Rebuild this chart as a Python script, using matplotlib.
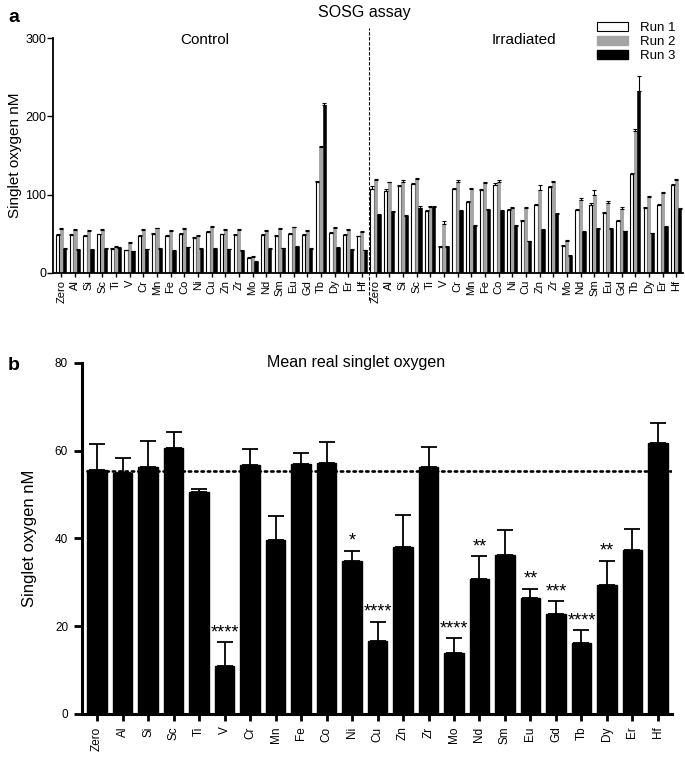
import matplotlib
matplotlib.use("Agg")
import matplotlib.pyplot as plt
import numpy as np
from matplotlib.patches import Patch

plt.rcParams['font.family'] = ['Liberation Sans', 'DejaVu Sans']

elements = ["Zero", "Al", "Si", "Sc", "Ti", "V", "Cr", "Mn", "Fe", "Co", "Ni", "Cu",
            "Zn", "Zr", "Mo", "Nd", "Sm", "Eu", "Gd", "Tb", "Dy", "Er", "Hf"]

# Panel a: SOSG assay (three runs), control and irradiated
ctrl_run1 = [48.1, 48.5, 47.2, 48.9, 30.6, 28.5, 47.2, 49.8, 46.8, 49.4, 43.8, 51.5,
             48.9, 48.1, 18.7, 48.1, 47.2, 49.8, 48.5, 116.2, 51.1, 48.5, 46.4]
ctrl_run2 = [55.7, 54.5, 54.0, 54.9, 33.2, 37.9, 54.5, 56.6, 53.6, 55.7, 46.8, 57.9,
             54.9, 54.9, 20.0, 53.2, 55.7, 57.9, 53.2, 160.9, 57.4, 54.9, 52.3]
ctrl_run3 = [30.6, 28.9, 28.9, 30.2, 31.9, 27.2, 29.8, 30.2, 28.1, 32.3, 30.6, 30.2,
             29.8, 28.1, 14.0, 30.6, 31.1, 32.8, 30.6, 214.0, 31.5, 29.4, 28.5]
ctrl_err1 = [2.0, 1.5, 1.0, 1.0, 1.0, 1.0, 1.0, 1.5, 1.0, 1.5, 2.0, 1.5,
             1.0, 1.0, 1.0, 1.0, 1.0, 1.0, 1.0, 1.5, 1.5, 1.0, 1.0]
ctrl_err2 = [1.5, 1.0, 1.0, 1.0, 1.0, 1.0, 1.0, 1.0, 1.0, 1.0, 1.0, 1.5,
             1.0, 1.0, 1.0, 1.0, 1.5, 1.0, 1.0, 1.5, 1.5, 1.0, 1.0]
ctrl_err3 = [1.0, 1.0, 1.0, 1.0, 1.0, 1.0, 1.0, 1.0, 1.0, 1.0, 1.0, 1.0,
             1.0, 1.0, 1.0, 1.0, 1.0, 1.0, 1.0, 3.5, 1.0, 1.0, 1.0]
irr_run1 = [107.7, 104.3, 110.6, 113.6, 79.1, 33.2, 106.8, 90.2, 106.0, 112.8, 80.0, 66.0,
            86.8, 109.4, 34.0, 80.0, 86.4, 76.6, 66.4, 126.0, 82.6, 86.8, 112.8]
irr_run2 = [118.3, 115.7, 116.6, 119.6, 83.8, 62.1, 116.6, 107.2, 114.5, 116.6, 83.4, 82.6,
            106.4, 116.6, 40.0, 93.6, 100.0, 88.9, 82.1, 181.3, 96.6, 102.1, 118.3]
irr_run3 = [74.0, 77.4, 73.2, 83.4, 84.3, 33.2, 79.1, 60.0, 80.0, 79.6, 60.4, 40.0,
            54.5, 75.3, 21.3, 51.9, 56.2, 56.2, 52.8, 233.0, 50.2, 58.7, 81.3]
irr_err1 = [3.0, 2.5, 1.5, 1.0, 1.0, 1.0, 1.0, 2.0, 1.5, 1.5, 1.0, 2.0,
            1.0, 1.5, 1.0, 1.5, 3.0, 1.5, 1.5, 1.0, 1.5, 1.5, 1.0]
irr_err2 = [1.5, 1.0, 1.5, 1.0, 1.5, 4.5, 1.5, 1.5, 1.5, 1.5, 1.0, 1.5,
            6.0, 1.0, 1.5, 1.5, 6.0, 3.0, 1.5, 2.0, 1.5, 1.5, 1.5]
irr_err3 = [1.0, 1.0, 1.0, 1.5, 1.0, 1.0, 1.5, 1.0, 1.0, 1.0, 1.0, 1.0,
            1.5, 1.0, 1.0, 1.0, 1.0, 1.0, 1.0, 19.0, 1.0, 1.0, 1.0]

# Panel b: mean real singlet oxygen
mean_real = [55.6, 54.8, 56.3, 60.5, 50.6, 10.9, 56.6, 39.7, 57.0, 57.2, 34.9, 16.7,
             38.0, 56.3, 13.9, 30.7, 36.1, 26.5, 22.8, 16.1, 29.3, 37.4, 61.6]
mean_err = [5.9, 3.6, 5.9, 3.8, 0.7, 5.4, 3.8, 5.5, 2.4, 4.8, 2.3, 4.3,
            7.3, 4.6, 3.4, 5.3, 5.7, 2.0, 2.9, 3.0, 5.6, 4.7, 4.6]
stars = ["", "", "", "", "", "****", "", "", "", "", "*", "****",
         "", "", "****", "**", "", "**", "***", "****", "**", "", ""]
zero_ref = 55.4

fig = plt.figure(figsize=(6.85, 7.57), dpi=100)
W, H = 685, 757

def ax_rect(l, r, top, bot):
    return [l / W, 1 - bot / H, (r - l) / W, (bot - top) / H]

# ---------- Panel a ----------
axa = fig.add_axes(ax_rect(53, 683, 38.3, 272.7))
labels_a = elements + elements
run1 = ctrl_run1 + irr_run1
run2 = ctrl_run2 + irr_run2
run3 = ctrl_run3 + irr_run3
err1 = ctrl_err1 + irr_err1
err2 = ctrl_err2 + irr_err2
err3 = ctrl_err3 + irr_err3
x = np.arange(len(labels_a))
bw = 0.24
ekw = dict(elinewidth=0.8, capthick=0.8, ecolor='black')
lo = np.zeros(len(x))
axa.bar(x - 0.25, run1, bw, color='white', edgecolor='black', linewidth=0.8,
        yerr=[lo, err1], capsize=1.5, error_kw=ekw, label='Run 1')
axa.bar(x, run2, bw, color='#a4a4a4', edgecolor='#8a8a8a', linewidth=0.4,
        yerr=[lo, err2], capsize=1.5, error_kw=ekw, label='Run 2')
axa.bar(x + 0.26, run3, bw, color='black', edgecolor='black', linewidth=0.4,
        yerr=[lo, err3], capsize=1.5, error_kw=ekw, label='Run 3')
axa.set_xlim(-0.6, 45.5)
axa.set_ylim(0, 300)
axa.set_yticks([0, 100, 200, 300])
axa.set_xticks(x)
axa.set_xticklabels(labels_a, rotation=90, fontsize=8)
axa.tick_params(axis='y', labelsize=9, length=4, width=1, pad=1)
axa.tick_params(axis='x', length=3, width=1, pad=2)
for s in ['top', 'right']:
    axa.spines[s].set_visible(False)
for s in ['left', 'bottom']:
    axa.spines[s].set_linewidth(1.3)
axa.set_ylabel('Singlet oxygen nM', fontsize=11, labelpad=2)
axa.plot([22.5, 22.5], [-35, 313], linestyle=(0, (3, 1.5)), color='black',
         linewidth=0.8, clip_on=False)
fig.text(205 / W, 1 - 40 / H, 'Control', fontsize=11, ha='center', va='center')
fig.text(524 / W, 1 - 40 / H, 'Irradiated', fontsize=11, ha='center', va='center')
fig.text(364 / W, 1 - 12 / H, 'SOSG assay', fontsize=11.5, ha='center', va='center')
fig.text(8 / W, 1 - 18 / H, 'a', fontsize=14, fontweight='bold', ha='left', va='center')
handles = [Patch(facecolor='white', edgecolor='black', linewidth=0.8),
           Patch(facecolor='#a4a4a4', edgecolor='#a4a4a4'),
           Patch(facecolor='black', edgecolor='black')]
fig.legend(handles, ['Run 1', 'Run 2', 'Run 3'], loc='upper right',
           bbox_to_anchor=(683 / W, 1 - 14 / H), frameon=False, fontsize=9.5,
           handlelength=2.3, handleheight=0.7, labelspacing=0.12,
           handletextpad=0.9, borderpad=0.1)

# ---------- Panel b ----------
axb = fig.add_axes(ax_rect(82, 672, 362.7, 714))
xb = np.arange(len(elements))
axb.bar(xb, mean_real, 0.78, color='black', edgecolor='black',
        yerr=[np.zeros(len(xb)), mean_err], capsize=6,
        error_kw=dict(elinewidth=1.3, capthick=1.3, ecolor='black'))
axb.plot([-0.4, 22.5], [zero_ref, zero_ref], linestyle=(0, (0.9, 1.5)),
         color='black', linewidth=1.9, dash_capstyle='round')
for i, s in enumerate(stars):
    if s:
        axb.text(xb[i], mean_real[i] + mean_err[i] + 0.2, s, ha='center',
                 va='bottom', fontsize=13)
axb.set_xlim(-0.59, 22.55)
axb.set_ylim(0, 80)
axb.set_yticks([0, 20, 40, 60, 80])
axb.set_xticks(xb)
axb.set_xticklabels(elements, rotation=90, fontsize=8.5)
axb.tick_params(axis='y', labelsize=8.5, length=6, width=2, pad=4)
axb.tick_params(axis='x', length=5, width=2, pad=4)
for s in ['top', 'right']:
    axb.spines[s].set_visible(False)
for s in ['left', 'bottom']:
    axb.spines[s].set_linewidth(2.2)
axb.set_ylabel('Singlet oxygen nM', fontsize=12, labelpad=13)
fig.text(356 / W, 1 - 362 / H, 'Mean real singlet oxygen', fontsize=11.5,
         ha='center', va='center')
fig.text(8 / W, 1 - 365 / H, 'b', fontsize=14, fontweight='bold', ha='left', va='center')

fig.savefig('out.png', dpi=100)
